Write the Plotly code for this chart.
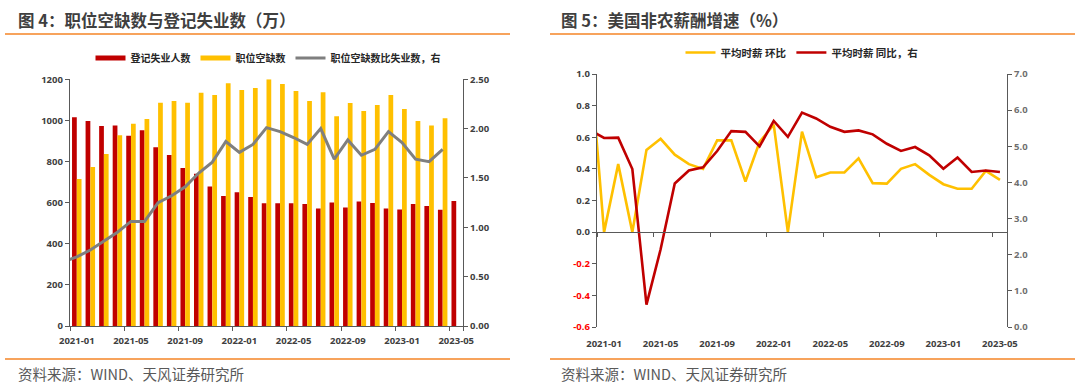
import plotly.graph_objects as go

# ---------------- data ----------------
months = ["2020-12",
          "2021-01", "2021-02", "2021-03", "2021-04", "2021-05", "2021-06",
          "2021-07", "2021-08", "2021-09", "2021-10", "2021-11", "2021-12",
          "2022-01", "2022-02", "2022-03", "2022-04", "2022-05", "2022-06",
          "2022-07", "2022-08", "2022-09", "2022-10", "2022-11", "2022-12",
          "2023-01", "2023-02", "2023-03", "2023-04", "2023-05"]
tick_labels = ["2021-01", "2021-05", "2021-09", "2022-01",
               "2022-05", "2022-09", "2023-01", "2023-05"]

# Fig 4 (万)
unemployed = [None, 1015, 997, 973, 975, 926, 952, 869, 832, 769, 740, 678, 632,
              650, 627, 597, 597, 597, 593, 571, 601, 576, 605, 598, 571,
              567, 593, 584, 566, 608]
vacancies = [None, 715, 773, 837, 928, 984, 1007, 1086, 1095, 1086, 1135, 1124, 1181,
             1148, 1158, 1200, 1177, 1143, 1095, 1137, 1020, 1085, 1046, 1075, 1124,
             1056, 997, 975, 1010, None]
ratio = [0.65, 0.70, 0.77, 0.86, 0.95, 1.06, 1.06, 1.25, 1.32, 1.41, 1.55, 1.66, 1.87,
         1.76, 1.84, 2.01, 1.97, 1.91, 1.84, 2.00, 1.69, 1.885, 1.73, 1.79, 1.97,
         1.86, 1.69, 1.665, 1.79, None]

# Fig 5 (%)
wage_mom = [1.10, 0.0, 0.43, 0.0, 0.52, 0.59, 0.49, 0.43, 0.40, 0.58, 0.58, 0.32, 0.57,
            0.68, 0.0, 0.635, 0.347, 0.377, 0.377, 0.467, 0.31, 0.307, 0.40, 0.43, 0.362,
            0.303, 0.274, 0.274, 0.387, 0.33]
wage_yoy = [5.45, 5.23, 5.24, 4.37, 0.62, 2.15, 3.97, 4.33, 4.42, 4.87, 5.42, 5.40, 5.00,
            5.70, 5.26, 5.93, 5.77, 5.54, 5.40, 5.44, 5.33, 5.07, 4.87, 4.98, 4.75,
            4.38, 4.69, 4.29, 4.33, 4.29]

left_ticks = [-0.6, -0.4, -0.2, 0.0, 0.2, 0.4, 0.6, 0.8, 1.0]

# ---------------- style ----------------
W, H = 1080, 384
def fx(p):
    return p / W
def fy(p):
    return 1 - p / H

RED = "#C00000"
YEL = "#FFC000"
GRY = "#7F7F7F"
AX = "#595959"
ORG = "#F7A35C"
CJK = "Noto Sans CJK SC"
TICKFONT = dict(family="Noto Sans", size=9.5, color="#404040", weight="bold")

fig = go.Figure()

# ---- left chart ----
fig.add_bar(x=months, y=unemployed, marker_color=RED, marker_line_width=0,
            xaxis="x", yaxis="y", showlegend=False, hoverinfo="skip")
fig.add_bar(x=months, y=vacancies, marker_color=YEL, marker_line_width=0,
            xaxis="x", yaxis="y", showlegend=False, hoverinfo="skip")
fig.add_scatter(x=[None], y=[None], mode="lines", name="登记失业人数",
                line=dict(color=RED, width=5), legend="legend", xaxis="x", yaxis="y")
fig.add_scatter(x=[None], y=[None], mode="lines", name="职位空缺数",
                line=dict(color=YEL, width=5), legend="legend", xaxis="x", yaxis="y")
fig.add_scatter(x=months, y=ratio, mode="lines", name="职位空缺数比失业数，右",
                line=dict(color=GRY, width=3), legend="legend",
                xaxis="x", yaxis="y2")

# ---- right chart ----
fig.add_scatter(x=months, y=wage_mom, mode="lines", name="平均时薪 环比",
                line=dict(color=YEL, width=2.6), legend="legend2",
                xaxis="x2", yaxis="y3")
fig.add_scatter(x=months, y=wage_yoy, mode="lines", name="平均时薪 同比，右",
                line=dict(color=RED, width=2.6), legend="legend2",
                xaxis="x2", yaxis="y4")
# invisible carrier for the zero-crossing tick axis
fig.add_scatter(x=months, y=[None] * len(months), mode="lines", showlegend=False,
                hoverinfo="skip", xaxis="x3", yaxis="y3")

LXD = [fx(70), fx(463)]
LYD = [fy(326), fy(79.3)]
RXD = [fx(597), fx(1007)]
RYD = [fy(327), fy(74)]
zero_pos = RYD[0] + (0 - left_ticks[0]) / (left_ticks[-1] - left_ticks[0]) * (RYD[1] - RYD[0])

cat_axis = dict(type="category", categoryorder="array", categoryarray=months,
                range=[0.5, len(months) - 0.5], tickvals=tick_labels, ticktext=tick_labels,
                tickson="boundaries", tickangle=0, showgrid=False, zeroline=False,
                tickfont=TICKFONT)

ytick = dict(showgrid=False, zeroline=False, ticks="outside", ticklen=4, tickwidth=1.2,
             tickcolor=AX, showline=True, linecolor=AX, linewidth=1.4, tickfont=TICKFONT)

neg_text = [(f'<span style="color:#FF0000">{v:.1f}</span>' if v < 0 else f"{v:.1f}")
            for v in left_ticks]

fig.update_layout(
    width=W, height=H, autosize=False,
    margin=dict(l=0, r=0, t=0, b=0, autoexpand=False),
    paper_bgcolor="white", plot_bgcolor="rgba(0,0,0,0)",
    barmode="group", bargap=0.3, bargroupgap=0,
    font=dict(family=CJK, color="#404040"),
    xaxis=dict(cat_axis, domain=LXD, anchor="y", ticks="outside", ticklen=4,
               tickwidth=1.2, tickcolor=AX, showline=True, linecolor=AX, linewidth=1.4,
               ticklabelstandoff=5),
    yaxis=dict(ytick, domain=LYD, anchor="x", range=[0, 1200], dtick=200, tick0=0),
    yaxis2=dict(ytick, overlaying="y", side="right", anchor="x", range=[0, 2.5],
                dtick=0.5, tick0=0, tickformat=".2f"),
    xaxis2=dict(cat_axis, domain=RXD, anchor="y3", ticks="", showline=False,
                ticklabelstandoff=9),
    xaxis3=dict(cat_axis, overlaying="x2", anchor="free", position=zero_pos,
                showticklabels=False, ticks="outside", ticklen=4, tickwidth=1.2,
                tickcolor=AX, showline=True, linecolor=AX, linewidth=1.4),
    yaxis3=dict(ytick, domain=RYD, anchor="x2", range=[left_ticks[0], left_ticks[-1]],
                tickvals=left_ticks, ticktext=neg_text),
    yaxis4=dict(ytick, overlaying="y3", side="right", anchor="x2", range=[0, 7],
                dtick=1, tick0=0, tickformat=".1f",
                tickfont=dict(TICKFONT, color="#6F6F6F")),
    legend=dict(orientation="h", x=fx(268), xanchor="center", y=fy(58), yanchor="middle",
                font=dict(family=CJK, size=10, color="#262626", weight="bold"),
                bgcolor="rgba(0,0,0,0)", itemwidth=30, tracegroupgap=0),
    legend2=dict(orientation="h", x=fx(802), xanchor="center", y=fy(52.5), yanchor="middle",
                 font=dict(family=CJK, size=10.5, color="#262626", weight="bold"),
                 bgcolor="rgba(0,0,0,0)", itemwidth=30, tracegroupgap=0),
    showlegend=True,
)

annotations = [
    dict(text="图 4：职位空缺数与登记失业数（万）", x=fx(16), y=fy(20)),
    dict(text="图 5：美国非农薪酬增速（%）", x=fx(559), y=fy(20)),
]
for a in annotations:
    fig.add_annotation(xref="paper", yref="paper", xanchor="left", yanchor="middle",
                       showarrow=False, text=a["text"], x=a["x"], y=a["y"],
                       font=dict(family=CJK, size=16.5, color="#3F3F3F", weight="bold"))
for xpos in (fx(16), fx(559)):
    fig.add_annotation(xref="paper", yref="paper", xanchor="left", yanchor="middle",
                       showarrow=False, text="资料来源：WIND、天风证券研究所",
                       x=xpos, y=fy(373),
                       font=dict(family=CJK, size=14.5, color="#595959"))

for (x0, x1) in ((5, 510), (550, 1075)):
    for yy in (34, 359):
        fig.add_shape(type="line", xref="paper", yref="paper",
                      x0=fx(x0), x1=fx(x1), y0=fy(yy), y1=fy(yy),
                      line=dict(color=ORG, width=2))

fig.write_html("out.html", config={"displayModeBar": False},
               post_script="document.body.style.margin='0';document.body.style.overflow='hidden';")
